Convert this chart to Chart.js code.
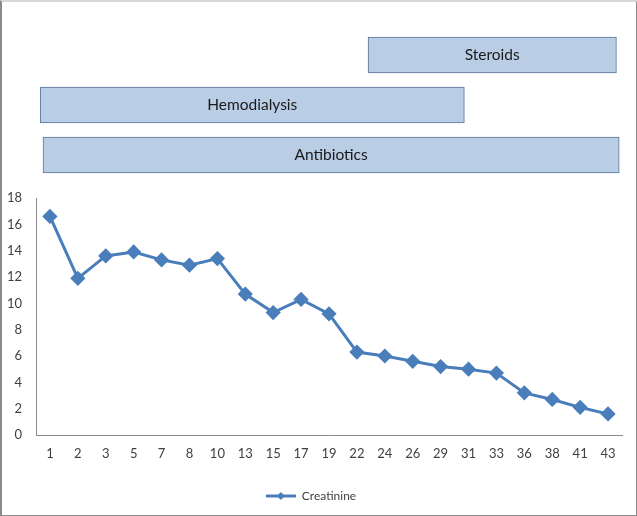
<!DOCTYPE html>
<html>
<head>
<meta charset="utf-8">
<script src="https://cdn.jsdelivr.net/npm/chart.js@4/dist/chart.umd.min.js"></script>
<style>
  body { margin: 0; background: #fff; }
  .frame { position: relative; width: 634px; height: 513px; border: 2px solid #8a8a8a; border-top-color: #d8d8d8; background: #fff; }
  #bars { position: absolute; left: -2px; top: 28px; }
  #creat { position: absolute; left: -2px; top: 178px; }
</style>
</head>
<body>
<div class="frame">
  <canvas id="bars" width="637" height="150"></canvas>
  <canvas id="creat" width="637" height="336"></canvas>
</div>
<script>
// days of measurement
const days = ['1', '2', '3', '5', '7', '8', '10', '13', '15', '17', '19', '22', '24', '26', '29', '31', '33', '36', '38', '41', '43'];
const creatinine = [16.6, 11.9, 13.6, 13.9, 13.3, 12.9, 13.4, 10.7, 9.3, 10.3, 9.2, 6.3, 6.0, 5.6, 5.2, 5.0, 4.7, 3.2, 2.7, 2.1, 1.6];
const yTicks = [0, 2, 4, 6, 8, 10, 12, 14, 16, 18];

// treatment spans, in positions along the day axis (0 = first day)
const treatments = ['Steroids', 'Hemodialysis', 'Antibiotics'];
const treatStart = [11.4, -0.35, -0.25];
const treatEnd = [20.3, 14.85, 20.4];

const blue = '#4a7ebb';
const txt = '#404040';
const font = 'Lato, "Open Sans", sans-serif';

// line + diamond marker for the legend
function legendMarker() {
  const c = document.createElement('canvas');
  c.width = 30; c.height = 10;
  const g = c.getContext('2d');
  g.strokeStyle = blue; g.lineWidth = 3;
  g.beginPath(); g.moveTo(0, 5); g.lineTo(30, 5); g.stroke();
  g.fillStyle = blue;
  g.beginPath(); g.moveTo(15, 1); g.lineTo(19, 5); g.lineTo(15, 9); g.lineTo(11, 5); g.closePath(); g.fill();
  return c;
}

const barLabels = {
  id: 'barLabels',
  afterDatasetsDraw(chart) {
    const ctx = chart.ctx;
    ctx.save();
    ctx.font = '15.5px ' + font;
    ctx.fillStyle = '#1a1a1a';
    ctx.textAlign = 'center';
    ctx.textBaseline = 'middle';
    chart.getDatasetMeta(0).data.forEach((bar, i) => {
      ctx.fillText(treatments[i], (bar.x + bar.base) / 2, bar.y);
    });
    ctx.restore();
  }
};

new Chart(document.getElementById('bars'), {
  type: 'bar',
  data: {
    labels: treatments,
    datasets: [{
      data: treatments.map((t, i) => [treatStart[i], treatEnd[i]]),
      backgroundColor: '#b9cde5',
      borderColor: '#5b7598',
      borderWidth: 1,
      borderSkipped: false,
      barThickness: 36
    }]
  },
  options: {
    indexAxis: 'y',
    responsive: false,
    animation: false,
    layout: { padding: { left: 36, right: 15, top: 0, bottom: 0 } },
    scales: {
      x: { type: 'linear', min: -0.5, max: 20.5, display: false },
      y: { display: false }
    },
    plugins: { legend: { display: false }, tooltip: { enabled: false } }
  },
  plugins: [barLabels]
});

new Chart(document.getElementById('creat'), {
  type: 'line',
  data: {
    labels: days,
    datasets: [{
      label: 'Creatinine',
      data: creatinine,
      borderColor: blue,
      backgroundColor: blue,
      borderWidth: 3,
      pointStyle: 'rectRot',
      pointRadius: 5.5,
      pointBackgroundColor: blue,
      pointBorderColor: blue,
      tension: 0
    }]
  },
  options: {
    responsive: false,
    animation: false,
    layout: { padding: { left: 0, right: 15, top: 18, bottom: 4 } },
    scales: {
      x: {
        offset: true,
        grid: { display: false },
        border: { display: true, color: '#8c8c8c' },
        ticks: { color: txt, font: { family: font, size: 13 }, padding: 3, maxRotation: 0, autoSkip: false },
        afterFit(s) { s.height = 45; }
      },
      y: {
        min: 0, max: 18,
        grid: { display: false },
        border: { display: true, color: '#8c8c8c' },
        afterBuildTicks(s) { s.ticks = yTicks.map(v => ({ value: v })); },
        ticks: { color: txt, font: { family: font, size: 13 }, padding: 6 },
        afterFit(s) { s.width = 36; }
      }
    },
    plugins: {
      tooltip: { enabled: false },
      legend: {
        position: 'bottom',
        labels: {
          color: txt,
          font: { family: font, size: 12 },
          usePointStyle: true,
          pointStyleWidth: 30,
          generateLabels(chart) {
            return chart.data.datasets.map((d, i) => ({
              text: d.label, datasetIndex: i, pointStyle: legendMarker(),
              fontColor: txt, lineWidth: 0, strokeStyle: blue, fillStyle: blue
            }));
          }
        }
      }
    }
  }
});
</script>
</body>
</html>
